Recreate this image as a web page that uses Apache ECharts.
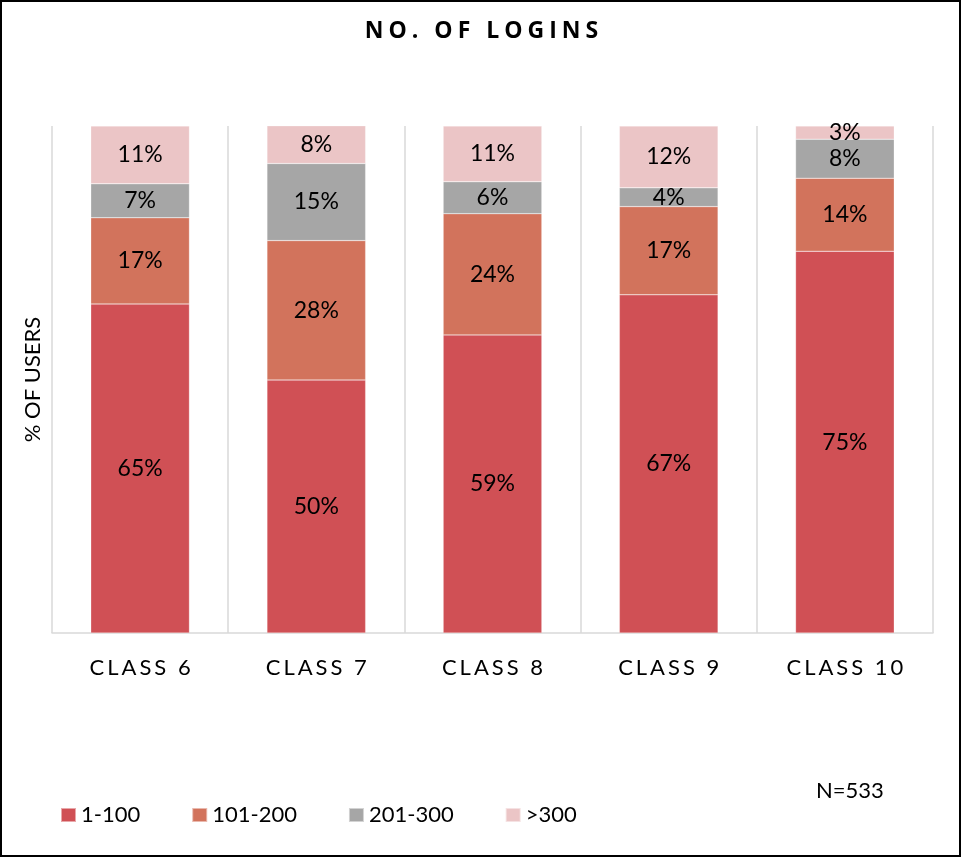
<!DOCTYPE html>
<html>
<head>
<meta charset="utf-8">
<script src="https://cdn.jsdelivr.net/npm/echarts@6/dist/echarts.min.js"></script>
<style>
html, body { margin: 0; padding: 0; background: #fff; }
#main { width: 963px; height: 859px; }
</style>
</head>
<body>
<div id="main"></div>
<script>
// categories and stacked shares (% of users) per login band
var classes = ['CLASS 6', 'CLASS 7', 'CLASS 8', 'CLASS 9', 'CLASS 10'];
var band1to100 = [64.9, 49.9, 58.8, 66.7, 75.3];
var band101to200 = [17.0, 27.5, 23.9, 17.4, 14.4];
var band201to300 = [6.7, 15.2, 6.3, 3.7, 7.7];
var bandOver300 = [11.4, 7.5, 11.0, 12.2, 2.6];

var bandNames = ['1-100', '101-200', '201-300', '>300'];
var bandColors = ['#D05055', '#D2735C', '#A6A6A6', '#EBC5C6'];
var bandData = [band1to100, band101to200, band201to300, bandOver300];

var fontName = 'Lato';

//把每个字符包成rich片段，模拟字间距
function spaced(text) {
    var out = '';
    for (var i = 0; i < text.length; i++) {
        out += '{s|' + text.charAt(i) + '}';
    }
    return out;
}

function makeSeries(i) {
    return {
        name: bandNames[i],
        type: 'bar',
        stack: 'total',
        barWidth: '56%',
        data: bandData[i],
        itemStyle: {
            color: bandColors[i],
            borderColor: 'rgba(255,255,255,0.5)',
            borderWidth: 0.5
        },
        label: {
            show: true,
            position: 'inside',
            color: '#000',
            fontFamily: fontName,
            fontSize: 23,
            formatter: function(p) {
                return Math.round(p.value) + '%';
            }
        }
    };
}

var myChart = echarts.init(document.getElementById('main'));
var option = {
    animation: false,
    backgroundColor: '#fff',
    title: {
        text: spaced('NO. OF LOGINS'),
        left: 'center',
        top: 15,
        textStyle: {
            fontFamily: 'Open Sans',
            fontWeight: 'bold',
            fontSize: 23,
            color: '#000',
            rich: {
                s: {
                    fontFamily: 'Open Sans',
                    fontWeight: 'bold',
                    fontSize: 23,
                    color: '#000',
                    padding: [0, 2.5]
                }
            }
        }
    },
    grid: {
        left: 52,
        right: 30,
        top: 126,
        bottom: 226
    },
    legend: {
        left: 55,
        top: 799,
        itemWidth: 15,
        itemHeight: 14,
        itemGap: 51,
        icon: 'rect',
        textStyle: {
            fontFamily: fontName,
            fontSize: 22,
            color: '#000'
        },
        data: bandNames
    },
    xAxis: {
        type: 'category',
        data: classes,
        axisLine: { lineStyle: { color: '#d9d9d9', width: 1.5 } },
        axisTick: { show: false },
        splitLine: { show: true, interval: 0, lineStyle: { color: '#d9d9d9', width: 1.5 } },
        axisLabel: {
            interval: 0,
            margin: 24,
            color: '#000',
            fontFamily: fontName,
            fontSize: 22,
            formatter: function(v) {
                return spaced(v);
            },
            rich: {
                s: {
                    color: '#000',
                    fontFamily: fontName,
                    fontSize: 22,
                    padding: [0, 1.5]
                }
            }
        }
    },
    yAxis: {
        type: 'value',
        min: 0,
        max: 100,
        name: '% OF USERS',
        nameLocation: 'middle',
        nameGap: 8,
        nameTextStyle: {
            fontFamily: fontName,
            fontSize: 22,
            color: '#000'
        },
        axisLabel: { show: false },
        axisLine: { show: false },
        axisTick: { show: false },
        splitLine: { show: false }
    },
    graphic: [{
        type: 'rect',
        shape: { x: 1, y: 1, width: 959, height: 855 },
        style: { fill: 'none', stroke: '#000', lineWidth: 2 }
    }, {
        type: 'text',
        left: 816,
        top: 780,
        style: {
            text: 'N=533',
            fontFamily: fontName,
            fontSize: 22,
            fill: '#000'
        }
    }],
    series: [makeSeries(0), makeSeries(1), makeSeries(2), makeSeries(3)]
};
myChart.setOption(option);
</script>
</body>
</html>
